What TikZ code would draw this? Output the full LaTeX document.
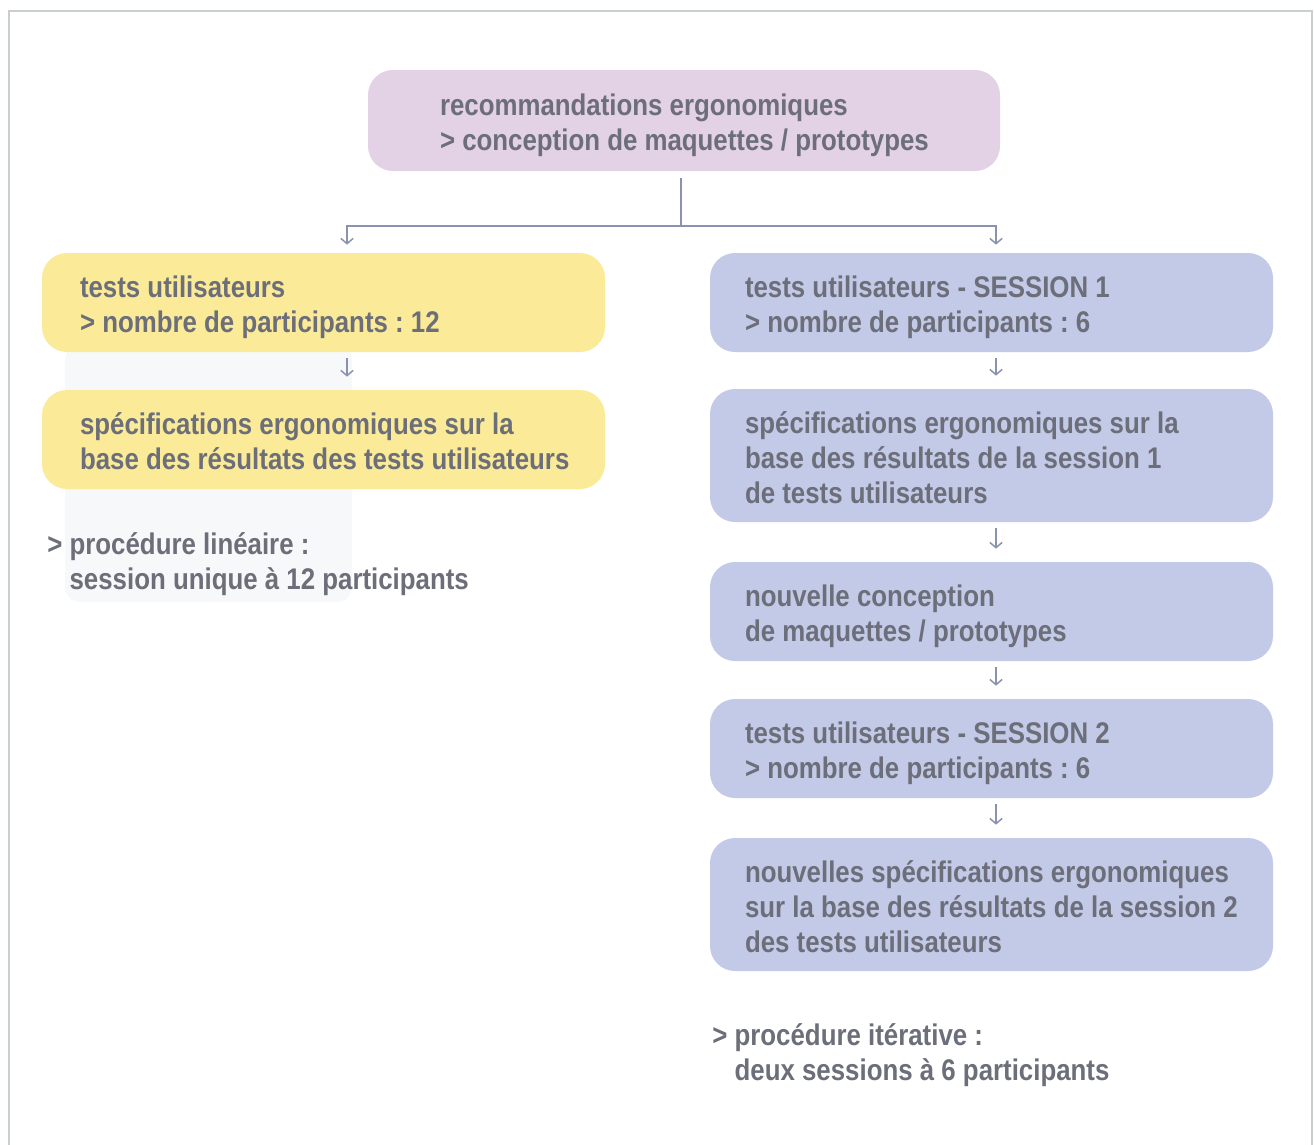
\documentclass[tikz,border=0pt]{standalone}
\usepackage{fontspec}
\setmainfont[FakeStretch=0.865]{Liberation Sans}
\usetikzlibrary{arrows.meta}
\frenchspacing
\definecolor{txtgray}{HTML}{6C6F79}
\definecolor{lilac}{HTML}{E3D1E5}
\definecolor{paleyellow}{HTML}{FBEB98}
\definecolor{paleblue}{HTML}{C3CAE8}
\definecolor{linegray}{HTML}{8A93AD}
\definecolor{framegray}{HTML}{C9CECE}
\definecolor{shadegray}{HTML}{F7F8FA}

\begin{document}
\begin{tikzpicture}[
		txt/.style={text=txtgray, font=\bfseries\fontsize{17}{19.9}\selectfont, align=flush left},
		box/.style={txt, rounded corners=0.5cm, inner ysep=0pt,
			execute at begin node={\rightskip=0pt plus 1fil minus 2cm\rule{0pt}{18.5pt}},
			execute at end node={\rule[-3.8pt]{0pt}{3.8pt}}},
		topbox/.style={box, fill=lilac, minimum height=2.02cm, text width=9.76cm, inner xsep=1.44cm},
		leftbox/.style={box, fill=paleyellow, minimum height=1.98cm, text width=9.74cm, inner xsep=0.76cm},
		rightbox/.style={box, fill=paleblue, minimum height=1.98cm, text width=9.86cm, inner xsep=0.70cm},
		tallbox/.style={rightbox, minimum height=2.66cm},
		note/.style={txt, inner sep=0pt, anchor=west},
		link/.style={draw=linegray, line width=0.85pt},
		arr/.style={link, -{Straight Barb[length=3pt,width=7pt]}, shorten <=0.12cm, shorten >=0.26cm}
	]
	%%%%% START %%%%%
	
	\useasboundingbox (0, 0) rectangle (26.28, -22.88);
	\draw[line width=1.4pt, color=framegray] (0.18, -23.2) |- (26.24, -0.22) -- (26.24, -23.2);
	
	\fill[shadegray, rounded corners=0.3cm] (1.3, -6.9) rectangle (7.04, -12.04);
	
	\node[topbox] (reco) at (13.68, -2.41) {recommandations ergonomiques\\> conception de maquettes / prototypes};
	
	\node[leftbox] (lin1) at (6.47, -6.05) {tests utilisateurs\\> nombre de participants : 12};
	\node[leftbox] (lin2) at (6.47, -8.79) {spécifications ergonomiques sur la\\base des résultats des tests utilisateurs};
	
	\node[rightbox] (it1) at (19.83, -6.05) {tests utilisateurs - SESSION 1\\> nombre de participants : 6};
	\node[tallbox] (it2) at (19.83, -9.11) {spécifications ergonomiques sur la\\base des résultats de la session 1\\de tests utilisateurs};
	\node[rightbox] (it3) at (19.83, -12.23) {nouvelle conception\\de maquettes / prototypes};
	\node[rightbox] (it4) at (19.83, -14.97) {tests utilisateurs - SESSION 2\\> nombre de participants : 6};
	\node[tallbox] (it5) at (19.83, -18.09) {nouvelles spécifications ergonomiques\\sur la base des résultats de la session 2\\des tests utilisateurs};
	
	\node[note] (linnote) at (0.94, -11.29) {> procédure linéaire :\\\phantom{> }session unique à 12 participants};
	\node[note] (itnote) at (14.24, -21.11) {> procédure itérative :\\\phantom{> }deux sessions à 6 participants};
	
	% connectors
	\coordinate (split) at (13.62, -4.52);
	\coordinate (lx) at (6.94, 0);
	\coordinate (rx) at (19.92, 0);
	
	\draw[link, shorten <=0.14cm] (reco.south -| split) -- (split);
	\draw[arr, shorten <=0cm, shorten >=0.16cm] (split) -| (lin1.north -| lx);
	\draw[arr, shorten <=0cm, shorten >=0.16cm] (split) -| (it1.north -| rx);
	
	\draw[arr] (lin1.south -| lx) -- (lin2.north -| lx);
	\draw[arr] (it1.south -| rx) -- (it2.north -| rx);
	\draw[arr] (it2.south -| rx) -- (it3.north -| rx);
	\draw[arr] (it3.south -| rx) -- (it4.north -| rx);
	\draw[arr] (it4.south -| rx) -- (it5.north -| rx);
	
	%%%%% END %%%%%
\end{tikzpicture}
\end{document}
